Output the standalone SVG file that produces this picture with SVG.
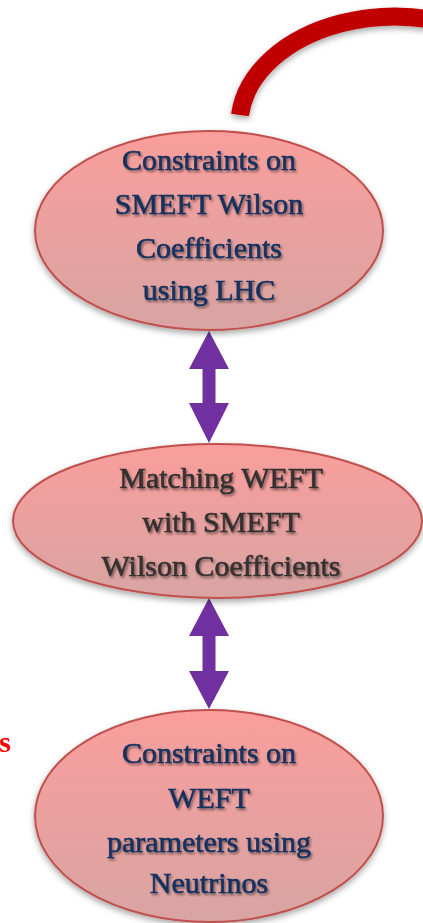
<svg xmlns="http://www.w3.org/2000/svg" width="423" height="923" viewBox="0 0 423 923">
<defs>
<linearGradient id="fillG" x1="0" y1="0" x2="0" y2="1">
<stop offset="0" stop-color="#FA9E9C"/>
<stop offset="1" stop-color="#D8A4A2"/>
</linearGradient>
<filter id="shadow" x="-10%" y="-10%" width="120%" height="125%">
<feDropShadow dx="0" dy="3" stdDeviation="3" flood-color="#000" flood-opacity="0.35"/>
</filter>
<filter id="tshadow" x="-10%" y="-20%" width="120%" height="150%">
<feDropShadow dx="1.5" dy="2" stdDeviation="1.2" flood-color="#000" flood-opacity="0.45"/>
</filter>
<style>
.node ellipse{fill:url(#fillG);stroke:#C0504D;stroke-width:2;filter:url(#shadow)}
.lbl{font-family:"Liberation Serif","Times New Roman",serif;font-size:30px;text-anchor:middle;filter:url(#tshadow);stroke-width:0.6}
.blue{fill:#14305E;stroke:#14305E}
.gray{fill:#353030;stroke:#353030}
.arrow{fill:#7030A0}
</style>
</defs>
<g id="connectors">
<path id="arc" d="M 240 115 A 156 109 0 0 1 505 48" fill="none" stroke="#C00000" stroke-width="18" filter="url(#shadow)"/>
<polygon class="arrow" points="209,331 229,369 215.5,369 215.5,403 229,403 209,443 189,403 202.5,403 202.5,369 189,369"/>
<polygon class="arrow" points="209,598 229,636 215.5,636 215.5,671 229,671 209,709 189,671 202.5,671 202.5,636 189,636"/>
</g>
<g id="node1" class="node">
<ellipse cx="209" cy="230.5" rx="174" ry="99.5"/>
<text class="lbl blue" x="209" y="170">Constraints on</text>
<text class="lbl blue" x="209" y="214">SMEFT Wilson</text>
<text class="lbl blue" x="209" y="258">Coefficients</text>
<text class="lbl blue" x="209" y="300">using LHC</text>
</g>
<g id="node2" class="node">
<ellipse cx="217.5" cy="521" rx="204.5" ry="77"/>
<text class="lbl gray" x="221" y="488">Matching WEFT</text>
<text class="lbl gray" x="221" y="532">with SMEFT</text>
<text class="lbl gray" x="221" y="576">Wilson Coefficients</text>
</g>
<g id="node3" class="node">
<ellipse cx="209" cy="816" rx="174" ry="106"/>
<text class="lbl blue" x="209" y="763">Constraints on</text>
<text class="lbl blue" x="209" y="808">WEFT</text>
<text class="lbl blue" x="209" y="852">parameters using</text>
<text class="lbl blue" x="209" y="893">Neutrinos</text>
</g>
<text x="11" y="752" font-family="Liberation Serif, serif" font-size="30" font-weight="bold" fill="#FF0000" text-anchor="end">s</text>
</svg>
